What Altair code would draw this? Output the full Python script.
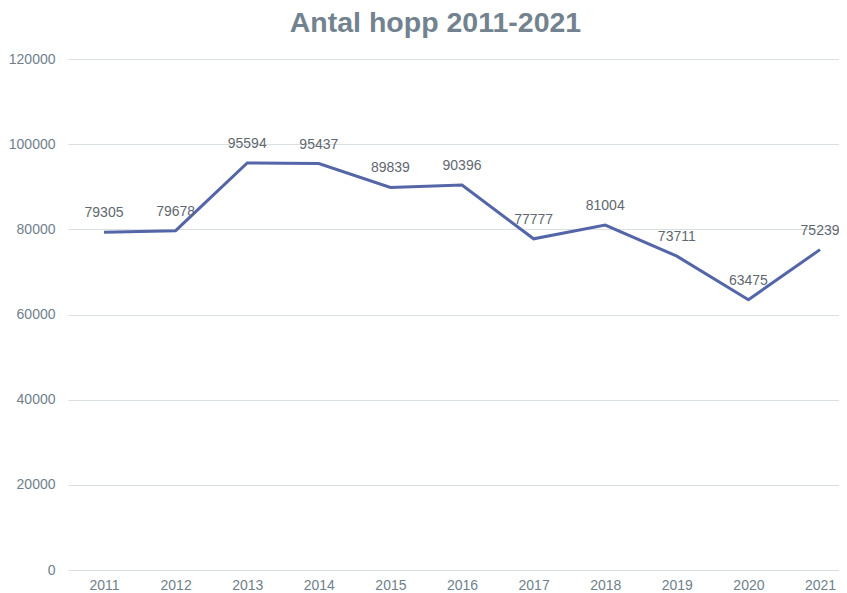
import altair as alt
import pandas as pd

years = [2011, 2012, 2013, 2014, 2015, 2016, 2017, 2018, 2019, 2020, 2021]
jumps = [79305, 79678, 95594, 95437, 89839, 90396, 77777, 81004, 73711, 63475, 75239]
y_ticks = [0, 20000, 40000, 60000, 80000, 100000, 120000]

df = pd.DataFrame({"year": years, "jumps": jumps})

x = alt.X("year:Q", scale=alt.Scale(domain=[2010.497, 2021.265], nice=False, zero=False),
          axis=alt.Axis(values=years, format="d", title=None, grid=False, ticks=False,
                        domain=False, labelFont="Liberation Sans", labelFontSize=14,
                        labelColor="#6f7f8c", labelPadding=8))
y = alt.Y("jumps:Q", scale=alt.Scale(domain=[0, 120000], nice=False),
          axis=alt.Axis(values=y_ticks, format="d", title=None, ticks=False, domain=False,
                        labelFont="Liberation Sans", labelFontSize=14, labelColor="#6f7f8c",
                        labelPadding=13, gridColor="#dadfe3", gridWidth=1))

base = alt.Chart(df)
line = base.mark_line(color="#5465a8", strokeWidth=3).encode(x=x, y=y)
labels = base.mark_text(dy=-19, font="Liberation Sans", fontSize=14, color="#5f6870").encode(
    x=x, y=y, text=alt.Text("jumps:Q", format="d"))

chart = (line + labels).properties(
    width=771, height=511,
    title=alt.TitleParams("Antal hopp 2011-2021", font="Liberation Sans", fontSize=28.5,
                          fontWeight="bold", color="#72838f", dx=-18, offset=15),
    padding={"left": 60, "top": 51, "right": 0, "bottom": 25},
    autosize=alt.AutoSizeParams(type="none"),
).configure_view(stroke=None)

chart.save("out.html", embed_options={"renderer": "svg", "actions": False})
